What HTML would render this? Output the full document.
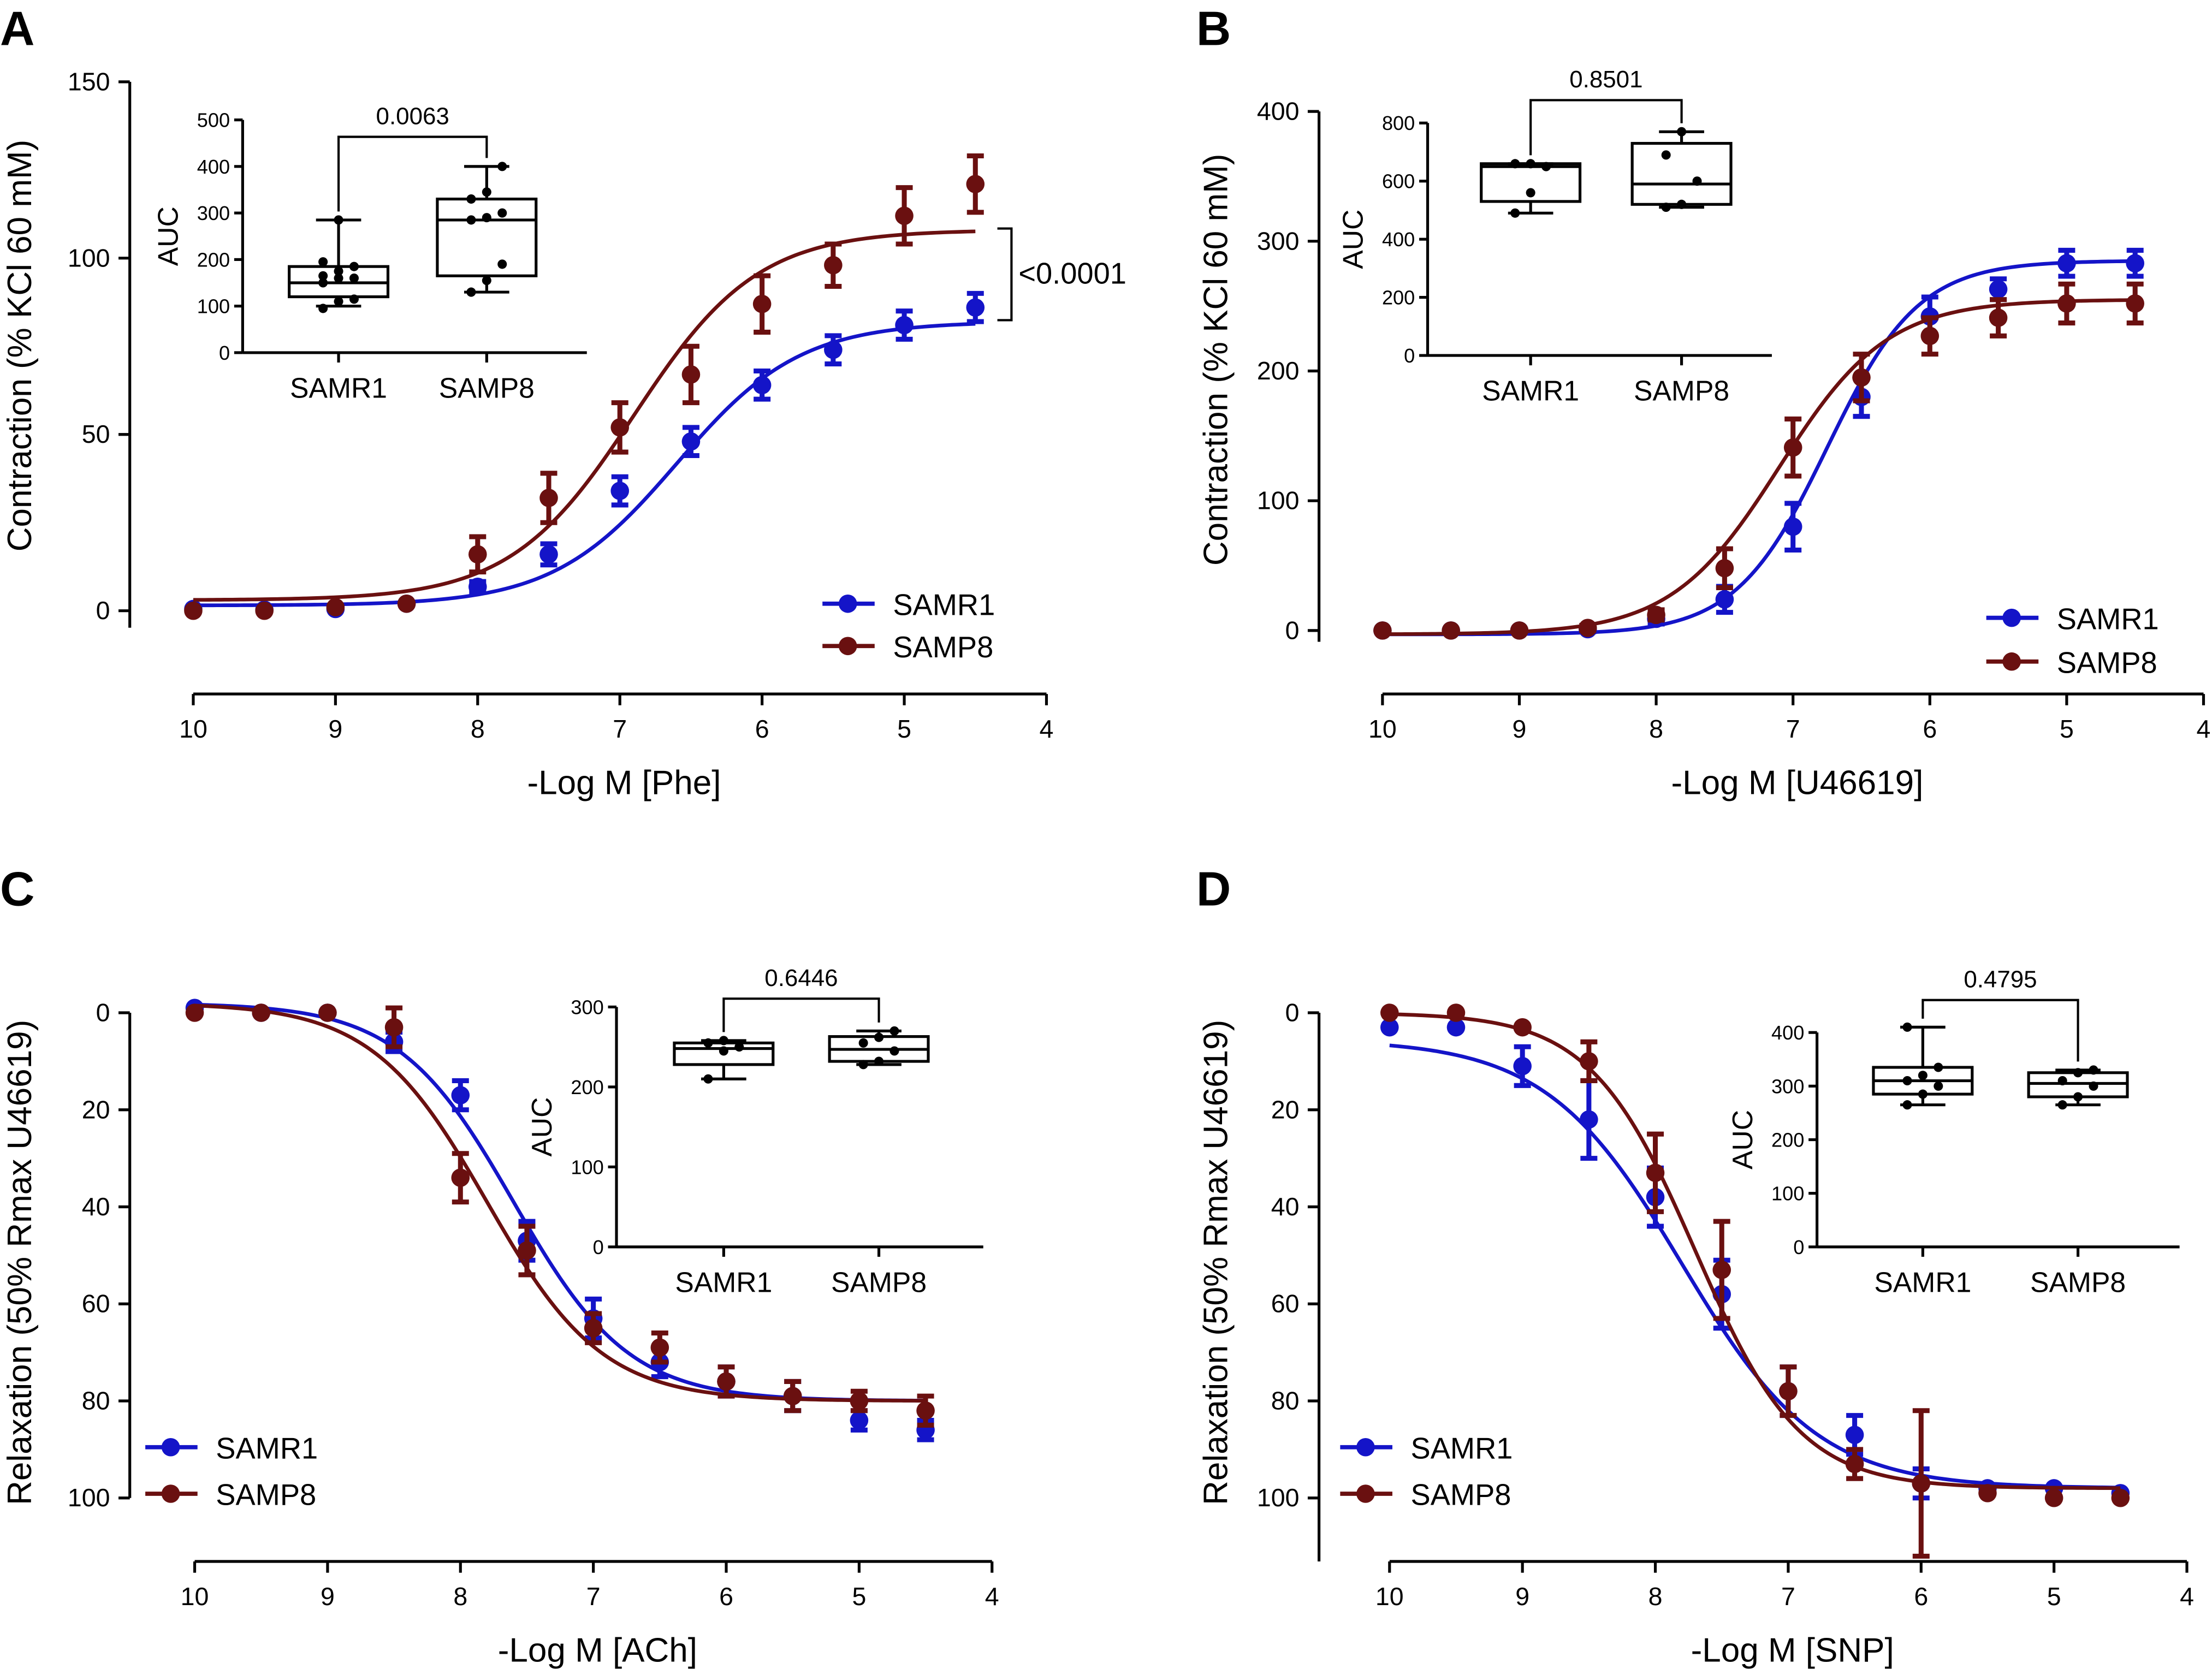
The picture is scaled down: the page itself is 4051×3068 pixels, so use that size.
<!DOCTYPE html>
<html><head><meta charset="utf-8"><style>
html,body{margin:0;padding:0;background:#fff;}
svg{display:block;font-family:"Liberation Sans",Arial,sans-serif;}
</style></head><body>
<svg id="fig" width="4051" height="3068" viewBox="0 0 1568 1187.5" xmlns="http://www.w3.org/2000/svg"></svg>
<script>
// ---------- data ----------
const doses = [10, 9.5, 9, 8.5, 8, 7.5, 7, 6.5, 6, 5.5, 5, 4.5];
const xTicks = [10, 9, 8, 7, 6, 5, 4];
const groups = ["SAMR1", "SAMP8"];

const aR1 = [0.5, 0.3, 0.5, 2, 6.8, 16, 34, 48, 64, 74, 81, 86];
const aR1e = [0.5, 0.5, 0.5, 1, 1.5, 3, 4, 4, 4, 4, 4, 4];
const aP8 = [0, 0, 1, 2, 16, 32, 52, 67, 87, 98, 112, 121];
const aP8e = [0.5, 0.5, 0.5, 1, 5, 7, 7, 8, 8, 6, 8, 8];
const aFitR1 = [1.5, 82, 6.6, 1.0];   // bottom, top, pEC50, hill
const aFitP8 = [3, 108, 6.9, 1.0];
const aYTicks = [0, 50, 100, 150];
const aAucR1 = [100, 120, 150, 185, 285];  // min,q1,med,q3,max
const aAucP8 = [130, 165, 285, 330, 400];
const aAucPtsR1 = [95, 110, 115, 150, 160, 160, 165, 175, 185, 195, 285];
const aAucPtsP8 = [130, 155, 190, 285, 290, 300, 330, 345, 400];
const aAucTicks = [0, 100, 200, 300, 400, 500];

const bR1 = [0, 0, 0, 1, 9, 24, 80, 180, 242, 263, 283, 283];
const bR1e = [1, 1, 1, 2, 4, 10, 18, 15, 15, 8, 10, 10];
const bP8 = [0, 0, 0, 2, 12, 48, 141, 195, 227, 241, 252, 252];
const bP8e = [1, 1, 1, 2, 4, 15, 22, 18, 14, 14, 15, 15];
const bFitR1 = [-3, 285, 6.75, 1.3];
const bFitP8 = [-3, 255, 7.1, 1.1];
const bYTicks = [0, 100, 200, 300, 400];
const bAucR1 = [490, 530, 650, 660, 660];
const bAucP8 = [510, 520, 590, 730, 770];
const bAucPtsR1 = [490, 560, 650, 660, 660];
const bAucPtsP8 = [510, 520, 600, 690, 770];
const bAucTicks = [0, 200, 400, 600, 800];

const cR1 = [-1, 0, 0, 6, 17, 47, 63, 72, 76, 79, 84, 86];
const cR1e = [0.5, 0.5, 0.5, 2, 3, 4, 4, 3, 3, 3, 2, 2];
const cP8 = [0, 0, 0, 3, 34, 49, 65, 69, 76, 79, 80, 82];
const cP8e = [0.5, 0.5, 0.5, 4, 5, 5, 3, 3, 3, 3, 2, 3];
const cFitR1 = [-2, 80, 7.6, 1.0];
const cFitP8 = [-2, 80, 7.8, 1.0];
const cYTicks = [0, 20, 40, 60, 80, 100];
const cAucR1 = [210, 228, 248, 255, 258];
const cAucP8 = [228, 232, 247, 263, 270];
const cAucPtsR1 = [210, 245, 250, 255, 258];
const cAucPtsP8 = [228, 232, 245, 255, 262, 270];
const cAucTicks = [0, 100, 200, 300];

const dR1 = [3, 3, 11, 22, 38, 58, 78, 87, 97, 98, 98, 99];
const dR1e = [1, 1, 4, 8, 6, 7, 5, 4, 3, 1, 1, 1];
const dP8 = [0, 0, 3, 10, 33, 53, 78, 93, 97, 99, 100, 100];
const dP8e = [1, 1, 1, 4, 8, 10, 5, 3, 15, 1, 1, 1];
const dFitR1 = [5.5, 98, 7.8, 0.85];
const dFitP8 = [0, 98, 7.7, 1.1];
const dYTicks = [0, 20, 40, 60, 80, 100];
const dAucR1 = [265, 285, 310, 335, 410];
const dAucP8 = [265, 280, 305, 325, 330];
const dAucPtsR1 = [265, 285, 300, 310, 320, 335, 410];
const dAucPtsP8 = [265, 280, 300, 310, 325, 330];
const dAucTicks = [0, 100, 200, 300, 400];

const pvals = ["0.0063", "0.8501", "0.6446", "0.4795"];
// ---------- drawing ----------
const NS = "http://www.w3.org/2000/svg";
const svg = document.getElementById("fig");
const BLUE = "#1414c8", RED = "#6a1010";
function el(tag, attrs, parent, text) {
  const e = document.createElementNS(NS, tag);
  for (const k in attrs) e.setAttribute(k, attrs[k]);
  if (text !== undefined) e.textContent = text;
  (parent || svg).appendChild(e);
  return e;
}
function line(g, x1, y1, x2, y2, c, w) { return el("line", {x1, y1, x2, y2, stroke: c || "#000", "stroke-width": w || 2}, g); }

function panel(cfg) {
  const g = el("g", {});
  
  
  const X = v => cfg.x0 + (10 - v) * cfg.xs;
  const Y = v => cfg.y0 - (v - cfg.ymin) * cfg.ys * cfg.dir;
  // letter
  const L = el("text", {x: cfg.lx, y: cfg.ly, "font-size": 34, "font-weight": "bold"}, g, cfg.letter);
  
  
  // y axis
  const yTop = Math.min(Y(cfg.yTicks[0]), Y(cfg.yTicks[cfg.yTicks.length-1]));
  const yBot = cfg.yAxisBottom;
  const ya = line(g, cfg.ax, yTop, cfg.ax, yBot);
  
  
  cfg.yTicks.forEach(t => {
    line(g, cfg.ax - 8, Y(t), cfg.ax, Y(t));
    const tl = el("text", {x: cfg.ax - 14, y: Y(t) + 6, "font-size": 18, "text-anchor": "end"}, g, t);
    
    
  });
  const yt = el("text", {transform: `translate(${cfg.ytx},${cfg.yty}) rotate(-90)`, "font-size": 24, "text-anchor": "middle"}, g, cfg.ytitle);
  
  
  // x axis
  const xa = line(g, X(10), cfg.xaY, X(4), cfg.xaY);
  
  
  xTicks.forEach(t => {
    line(g, X(t), cfg.xaY, X(t), cfg.xaY + 8);
    const tl = el("text", {x: X(t), y: cfg.xaY + 31, "font-size": 18, "text-anchor": "middle"}, g, t);
    
    
  });
  const xt = el("text", {x: (X(10) + X(4)) / 2 + 3, y: cfg.xaY + 71, "font-size": 24, "text-anchor": "middle"}, g, cfg.xtitle);
  
  
  // series
  [[cfg.r1, cfg.r1e, cfg.fr1, BLUE, "samr1"], [cfg.p8, cfg.p8e, cfg.fp8, RED, "samp8"]].forEach(s => {
    const [vals, errs, fit, col, nm] = s;
    let d = "";
    for (let i = 0; i <= 200; i++) {
      const lx = 10 - i * 5.5 / 200;
      const v = fit[0] + (fit[1] - fit[0]) / (1 + Math.pow(10, (lx - fit[2]) * fit[3]));
      d += (i ? "L" : "M") + X(lx).toFixed(2) + "," + Y(v).toFixed(2);
    }
    const c = el("path", {d, fill: "none", stroke: col, "stroke-width": 2.6}, g);
    
    
    vals.forEach((v, i) => {
      const x = X(doses[i]);
      const e = errs[i];
      if (e > 1.2) {
        const eb = el("path", {d: `M${x},${Y(v - e)}V${Y(v + e)}M${x - 6},${Y(v - e)}H${x + 6}M${x - 6},${Y(v + e)}H${x + 6}`, stroke: col, "stroke-width": 3.5, fill: "none"}, g);
        
        
      }
      const p = el("circle", {cx: x, cy: Y(v), r: 6.5, fill: col}, g);
      
      
    });
  });
  // legend
  [[BLUE, "SAMR1", cfg.legY], [RED, "SAMP8", cfg.legY + cfg.legDy]].forEach(l => {
    const lg = el("g", {}, g);
    
    
    line(lg, cfg.legX, l[2], cfg.legX + 37, l[2], l[0], 3);
    el("circle", {cx: cfg.legX + 18, cy: l[2], r: 6.5, fill: l[0]}, lg);
    el("text", {x: cfg.legX + 50, y: l[2] + 8, "font-size": 21}, lg, l[1]);
  });
  // inset
  const I = cfg.inset;
  const ig = el("g", {}, g);
  
  
  const IY = v => I.y0 - v * I.ys;
  const top = I.ticks[I.ticks.length - 1];
  line(ig, I.ax, IY(top), I.ax, I.y0);
  line(ig, I.ax, I.y0, I.x1, I.y0);
  I.ticks.forEach(t => {
    line(ig, I.ax - 6, IY(t), I.ax, IY(t));
    el("text", {x: I.ax - 9, y: IY(t) + 5, "font-size": 14, "text-anchor": "end"}, ig, t);
  });
  const at = el("text", {transform: `translate(${I.ax - 46},${(IY(top) + I.y0) / 2}) rotate(-90)`, "font-size": 20, "text-anchor": "middle"}, ig, "AUC");
  
  
  [[I.c1, cfg.auc1, cfg.pts1, "SAMR1"], [I.c2, cfg.auc2, cfg.pts2, "SAMP8"]].forEach(b => {
    const [cx, q, pts, nm] = b;
    const bg = el("g", {}, ig);
    
    
    line(bg, cx, I.y0, cx, I.y0 + 7);
    el("text", {x: cx, y: I.y0 + 32, "font-size": 20, "text-anchor": "middle"}, bg, nm);
    line(bg, cx, IY(q[0]), cx, IY(q[1]));
    line(bg, cx, IY(q[3]), cx, IY(q[4]));
    line(bg, cx - 16, IY(q[0]), cx + 16, IY(q[0]));
    line(bg, cx - 16, IY(q[4]), cx + 16, IY(q[4]));
    el("rect", {x: cx - 35, y: IY(q[3]), width: 70, height: IY(q[1]) - IY(q[3]), fill: "none", stroke: "#000", "stroke-width": 2}, bg);
    line(bg, cx - 35, IY(q[2]), cx + 35, IY(q[2]));
    pts.forEach((v, i) => {
      const off = ((i % 3) - 1) * 11;
      el("circle", {cx: cx + off, cy: IY(v), r: 3.3, fill: "#000"}, bg);
    });
  });
  const by = I.brY;
  const br = el("path", {d: `M${I.c1},${IY(cfg.auc1[4]) - 6}V${by}H${I.c2}V${IY(cfg.auc2[4]) - 6}`, fill: "none", stroke: "#000", "stroke-width": 1.6}, ig);
  
  
  const pv = el("text", {x: (I.c1 + I.c2) / 2, y: by - 9, "font-size": 17, "text-anchor": "middle"}, ig, cfg.pval);
  
  
  return g;
}

panel({name: "panel-a", letter: "A", lx: 0, ly: 32, x0: 137, xs: 100.8, ymin: 0, y0: 433, ys: 2.5, dir: 1,
  ax: 92, yAxisBottom: 445, yTicks: aYTicks, xaY: 492, ytx: 22, yty: 245, ytitle: "Contraction (% KCl 60 mM)", xtitle: "-Log M [Phe]",
  r1: aR1, r1e: aR1e, p8: aP8, p8e: aP8e, fr1: aFitR1, fp8: aFitP8, legX: 583, legY: 428, legDy: 30,
  inset: {ax: 172, x1: 416, y0: 250, ys: 0.33, ticks: aAucTicks, c1: 240, c2: 345, brY: 97},
  auc1: aAucR1, auc2: aAucP8, pts1: aAucPtsR1, pts2: aAucPtsP8, pval: pvals[0]});

panel({name: "panel-b", letter: "B", lx: 848, ly: 32, x0: 980, xs: 97, ymin: 0, y0: 447, ys: 0.92, dir: 1,
  ax: 935, yAxisBottom: 455, yTicks: bYTicks, xaY: 492, ytx: 870, yty: 255, ytitle: "Contraction (% KCl 60 mM)", xtitle: "-Log M [U46619]",
  r1: bR1, r1e: bR1e, p8: bP8, p8e: bP8e, fr1: bFitR1, fp8: bFitP8, legX: 1408, legY: 438, legDy: 31,
  inset: {ax: 1012, x1: 1256, y0: 252, ys: 0.206, ticks: bAucTicks, c1: 1085, c2: 1192, brY: 71},
  auc1: bAucR1, auc2: bAucP8, pts1: bAucPtsR1, pts2: bAucPtsP8, pval: pvals[1]});

panel({name: "panel-c", letter: "C", lx: 0, ly: 642, x0: 138, xs: 94.2, ymin: 0, y0: 718, ys: 3.44, dir: -1,
  ax: 92, yAxisBottom: 1062, yTicks: cYTicks, xaY: 1107, ytx: 22, yty: 895, ytitle: "Relaxation (50% Rmax U46619)", xtitle: "-Log M [ACh]",
  r1: cR1, r1e: cR1e, p8: cP8, p8e: cP8e, fr1: cFitR1, fp8: cFitP8, legX: 103, legY: 1026, legDy: 33,
  inset: {ax: 437, x1: 697, y0: 884, ys: 0.567, ticks: cAucTicks, c1: 513, c2: 623, brY: 708},
  auc1: cAucR1, auc2: cAucP8, pts1: cAucPtsR1, pts2: cAucPtsP8, pval: pvals[2]});

panel({name: "panel-d", letter: "D", lx: 848, ly: 642, x0: 985, xs: 94.2, ymin: 0, y0: 718, ys: 3.44, dir: -1,
  ax: 935, yAxisBottom: 1107, yTicks: dYTicks, xaY: 1107, ytx: 870, yty: 895, ytitle: "Relaxation (50% Rmax U46619)", xtitle: "-Log M [SNP]",
  r1: dR1, r1e: dR1e, p8: dP8, p8e: dP8e, fr1: dFitR1, fp8: dFitP8, legX: 950, legY: 1026, legDy: 33,
  inset: {ax: 1288, x1: 1545, y0: 884, ys: 0.38, ticks: dAucTicks, c1: 1363, c2: 1473, brY: 709},
  auc1: dAucR1, auc2: dAucP8, pts1: dAucPtsR1, pts2: dAucPtsP8, pval: pvals[3]});

// panel A significance between curves
const sg = el("path", {d: "M707,162H717V227H707", fill: "none", stroke: "#000", "stroke-width": 1.6});


const st = el("text", {x: 722, y: 201, "font-size": 21}, svg, "<0.0001");


</script>
</body></html>
